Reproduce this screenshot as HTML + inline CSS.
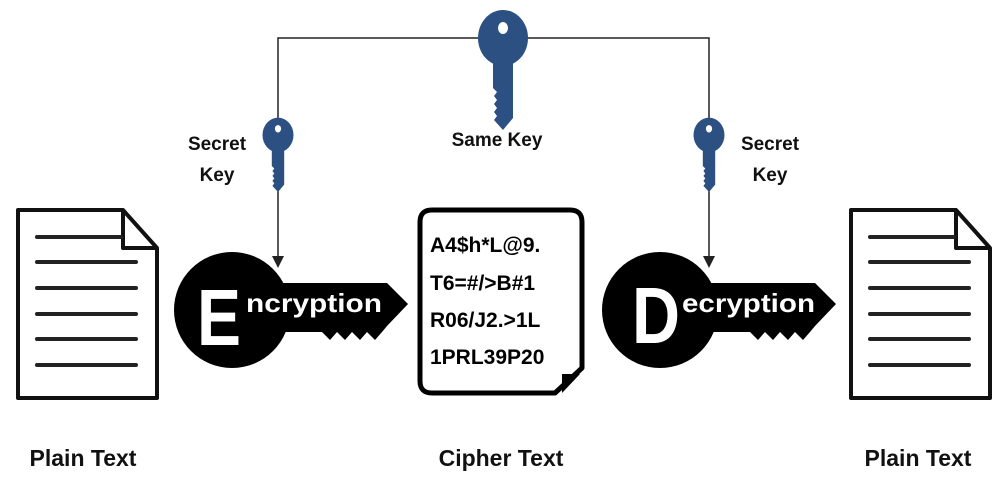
<!DOCTYPE html>
<html><head><meta charset="utf-8"><style>
html,body{margin:0;padding:0;background:#fff;}
svg{display:block;}
text{font-family:"Liberation Sans",sans-serif;font-weight:bold;}
</style></head><body>
<svg width="1008" height="484" viewBox="0 0 1008 484" xmlns="http://www.w3.org/2000/svg">
<defs>
<g id="bkey">
 <ellipse cx="0" cy="0" rx="25" ry="28" fill="#2c5082"/>
 <ellipse cx="0" cy="-10" rx="5" ry="6" fill="#fff"/>
 <path d="M-10,20 L10,20 L10,80 L0,92 L-9,82 L-6,78 L-9,74 L-6,70 L-9,66 L-6,62 L-9,58 L-6,54 L-10,50 Z" fill="#2c5082"/>
</g>
<g id="doc">
 <path d="M2,2 L107,2 L141,40 L141,190 L2,190 Z" fill="#fff" stroke="#111" stroke-width="4" stroke-linejoin="round"/>
 <path d="M107,2 L107,40 L141,40" fill="none" stroke="#111" stroke-width="4" stroke-linejoin="round"/>
 <g stroke="#222" stroke-width="4" stroke-linecap="round">
  <line x1="21" y1="29" x2="105" y2="29"/>
  <line x1="21" y1="54" x2="120" y2="54"/>
  <line x1="21" y1="80" x2="120" y2="80"/>
  <line x1="21" y1="106" x2="120" y2="106"/>
  <line x1="21" y1="131" x2="120" y2="131"/>
  <line x1="21" y1="157" x2="120" y2="157"/>
 </g>
</g>
<g id="bigkey">
 <circle cx="0" cy="0" r="58" fill="#000"/>
 <path d="M40,-27 L155,-27 L176,-6 L155,16 L150,22 L143,30 L135,22 L128,30 L120,22 L113,30 L105,22 L98,30 L90,22 L60,22 L40,22 Z" fill="#000"/>
</g>
</defs>

<path d="M278,120 L278,38 L709,38 L709,120" fill="none" stroke="#222" stroke-width="1.5"/>
<line x1="278" y1="190" x2="278" y2="262" stroke="#222" stroke-width="1.5"/>
<path d="M272,256 L278,268 L284,256 Z" fill="#222"/>
<line x1="709" y1="190" x2="709" y2="262" stroke="#222" stroke-width="1.5"/>
<path d="M703,256 L709,268 L715,256 Z" fill="#222"/>

<use href="#bkey" transform="translate(503,38)"/>
<use href="#bkey" transform="translate(278,135) scale(0.62)"/>
<use href="#bkey" transform="translate(709,135) scale(0.62)"/>

<text x="217" y="150" font-size="19" text-anchor="middle" fill="#111">Secret</text>
<text x="217" y="181" font-size="19" text-anchor="middle" fill="#111">Key</text>
<text x="497" y="146" font-size="19" text-anchor="middle" fill="#111">Same Key</text>
<text x="770" y="150" font-size="19" text-anchor="middle" fill="#111">Secret</text>
<text x="770" y="181" font-size="19" text-anchor="middle" fill="#111">Key</text>

<use href="#doc" transform="translate(16,208)"/>
<use href="#doc" transform="translate(849,208)"/>

<use href="#bigkey" transform="translate(232,310)"/>
<text x="197" y="345" font-size="80" fill="#fff" textLength="44" lengthAdjust="spacingAndGlyphs">E</text>
<text x="246" y="312" font-size="26" fill="#fff" textLength="136" lengthAdjust="spacingAndGlyphs">ncryption</text>

<use href="#bigkey" transform="translate(660,310)"/>
<text x="632" y="343" font-size="80" fill="#fff" textLength="48" lengthAdjust="spacingAndGlyphs">D</text>
<text x="682" y="312" font-size="26" fill="#fff" textLength="133" lengthAdjust="spacingAndGlyphs">ecryption</text>

<path d="M432,210 L570,210 Q582,210 582,222 L582,368 L555,393 L432,393 Q420,393 420,381 L420,222 Q420,210 432,210 Z" fill="#fff" stroke="#000" stroke-width="5" stroke-linejoin="round"/>
<path d="M562,374 L580,374 L562,393 Z" fill="#000"/>
<g font-size="21" fill="#000">
<text x="430" y="252">A4$h*L@9.</text>
<text x="430" y="290">T6=#/&gt;B#1</text>
<text x="430" y="327">R06/J2.&gt;1L</text>
<text x="430" y="364">1PRL39P20</text>
</g>

<text x="83" y="466" font-size="23" text-anchor="middle" fill="#111">Plain Text</text>
<text x="501" y="466" font-size="23" text-anchor="middle" fill="#111">Cipher Text</text>
<text x="918" y="466" font-size="23" text-anchor="middle" fill="#111">Plain Text</text>
</svg>
</body></html>
